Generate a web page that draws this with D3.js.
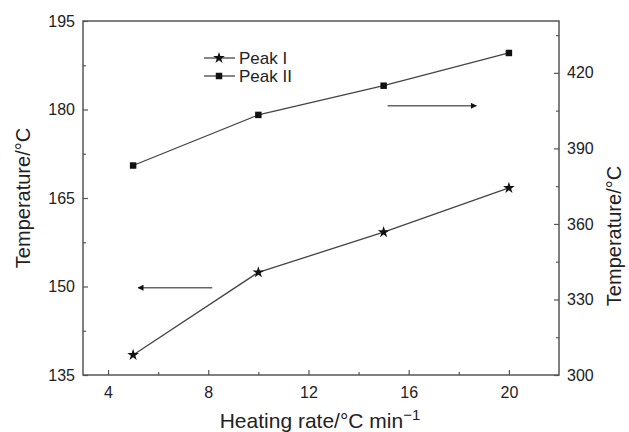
<!DOCTYPE html>
<html>
<head>
<meta charset="utf-8">
<script src="https://cdn.jsdelivr.net/npm/d3@7"></script>
<style>
  body { margin: 0; background: #fff; }
  text { font-family: Arial, "Liberation Sans", sans-serif; fill: #222; }
</style>
</head>
<body>
<svg id="chart" width="629" height="432"></svg>
<script>
// data
const rates = [5, 10, 15, 20];
const peak1 = [138.4, 152.4, 159.2, 166.7];   // left axis
const peak2 = [383.2, 403.3, 414.9, 427.9];   // right axis
const xTicks = [4, 8, 12, 16, 20];
const yLeftTicks = [135, 150, 165, 180, 195];
const yRightTicks = [300, 330, 360, 390, 420];

const svg = d3.select("#chart");
const m = { left: 83, right: 559, top: 21, bottom: 375 };

const x = d3.scaleLinear().domain([3, 22]).range([m.left, m.right]);
const yL = d3.scaleLinear().domain([135, 195]).range([m.bottom, m.top]);
const yR = d3.scaleLinear().domain([300, 440.6]).range([m.bottom, m.top]);

const axisCol = "#555";

// frame
svg.append("rect")
  .attr("x", m.left).attr("y", m.top)
  .attr("width", m.right - m.left).attr("height", m.bottom - m.top)
  .attr("fill", "none").attr("stroke", axisCol).attr("stroke-width", 1.5);

function styleAxis(g) {
  g.select(".domain").remove();
  g.selectAll(".tick line").attr("stroke", axisCol).attr("stroke-width", 1.2);
  g.selectAll(".tick text").attr("font-size", 16).attr("fill", "#222");
}
function minor(g) {
  g.select(".domain").remove();
  g.selectAll("line").attr("stroke", axisCol).attr("stroke-width", 1.2);
}

// x axis, ticks pointing inward
const gx = svg.append("g").attr("transform", `translate(0,${m.bottom})`)
  .call(d3.axisBottom(x).tickValues(xTicks).tickSize(-5).tickPadding(12));
styleAxis(gx);
svg.append("g").attr("transform", `translate(0,${m.bottom})`)
  .call(d3.axisBottom(x).tickValues([6, 10, 14, 18]).tickSize(-3).tickFormat(""))
  .call(minor);

// left axis
const gl = svg.append("g").attr("transform", `translate(${m.left},0)`)
  .call(d3.axisLeft(yL).tickValues(yLeftTicks).tickSize(-5).tickPadding(8));
styleAxis(gl);
svg.append("g").attr("transform", `translate(${m.left},0)`)
  .call(d3.axisLeft(yL).tickValues([142.5, 157.5, 172.5, 187.5]).tickSize(-3).tickFormat(""))
  .call(minor);

// right axis
const gr = svg.append("g").attr("transform", `translate(${m.right},0)`)
  .call(d3.axisRight(yR).tickValues(yRightTicks).tickSize(-5).tickPadding(8));
styleAxis(gr);
svg.append("g").attr("transform", `translate(${m.right},0)`)
  .call(d3.axisRight(yR).tickValues([315, 345, 375, 405, 435]).tickSize(-3).tickFormat(""))
  .call(minor);

// axis titles
svg.append("text")
  .attr("transform", `translate(30,198) rotate(-90)`)
  .attr("text-anchor", "middle").attr("font-size", 20)
  .text("Temperature/°C");
svg.append("text")
  .attr("transform", `translate(621,236) rotate(-90)`)
  .attr("text-anchor", "middle").attr("font-size", 20)
  .text("Temperature/°C");
const xt = svg.append("text")
  .attr("x", 320).attr("y", 428)
  .attr("text-anchor", "middle").attr("font-size", 21)
  .text("Heating rate/°C min");
xt.append("tspan").attr("dy", -8).attr("font-size", 15).text("−1");

// series
const lineCol = "#444";
const l1 = d3.line().x((d, i) => x(rates[i])).y(d => yL(d));
const l2 = d3.line().x((d, i) => x(rates[i])).y(d => yR(d));

svg.append("path").datum(peak1).attr("d", l1)
  .attr("fill", "none").attr("stroke", lineCol).attr("stroke-width", 1.3);
svg.append("path").datum(peak2).attr("d", l2)
  .attr("fill", "none").attr("stroke", lineCol).attr("stroke-width", 1.3);

const star = d3.symbol().type(d3.symbolStar).size(42);
const square = d3.symbol().type(d3.symbolSquare).size(42);

svg.append("g").selectAll("path").data(peak1).join("path")
  .attr("transform", (d, i) => `translate(${x(rates[i])},${yL(d)})`)
  .attr("d", star).attr("fill", "#111");
svg.append("g").selectAll("path").data(peak2).join("path")
  .attr("transform", (d, i) => `translate(${x(rates[i])},${yR(d)})`)
  .attr("d", square).attr("fill", "#111");

// legend
const legend = [
  { name: "Peak I", sym: star, y: 58 },
  { name: "Peak II", sym: square, y: 76 }
];
const lg = svg.append("g").selectAll("g").data(legend).join("g")
  .attr("transform", d => `translate(204,${d.y})`);
lg.append("line").attr("x1", 0).attr("x2", 31)
  .attr("stroke", lineCol).attr("stroke-width", 1.3);
lg.append("path").attr("transform", "translate(15,0)")
  .attr("d", d => d.sym()).attr("fill", "#111");
lg.append("text").attr("x", 35).attr("y", 6).attr("font-size", 17).text(d => d.name);

// arrows pointing to the matching axis
svg.append("defs").append("marker")
  .attr("id", "head").attr("viewBox", "0 0 10 10")
  .attr("refX", 9).attr("refY", 5)
  .attr("markerWidth", 9).attr("markerHeight", 6)
  .attr("markerUnits", "userSpaceOnUse")
  .attr("orient", "auto")
  .append("path").attr("d", "M0,0L10,5L0,10Z").attr("fill", "#111");

const arrows = [
  { x1: 8.16, x2: 5.2, y: 149.8, scale: yL },
  { x1: 15.16, x2: 18.7, y: 406.9, scale: yR }
];
svg.append("g").selectAll("line").data(arrows).join("line")
  .attr("x1", d => x(d.x1)).attr("x2", d => x(d.x2))
  .attr("y1", d => d.scale(d.y)).attr("y2", d => d.scale(d.y))
  .attr("stroke", "#666").attr("stroke-width", 1.5)
  .attr("marker-end", "url(#head)");
</script>
</body>
</html>
